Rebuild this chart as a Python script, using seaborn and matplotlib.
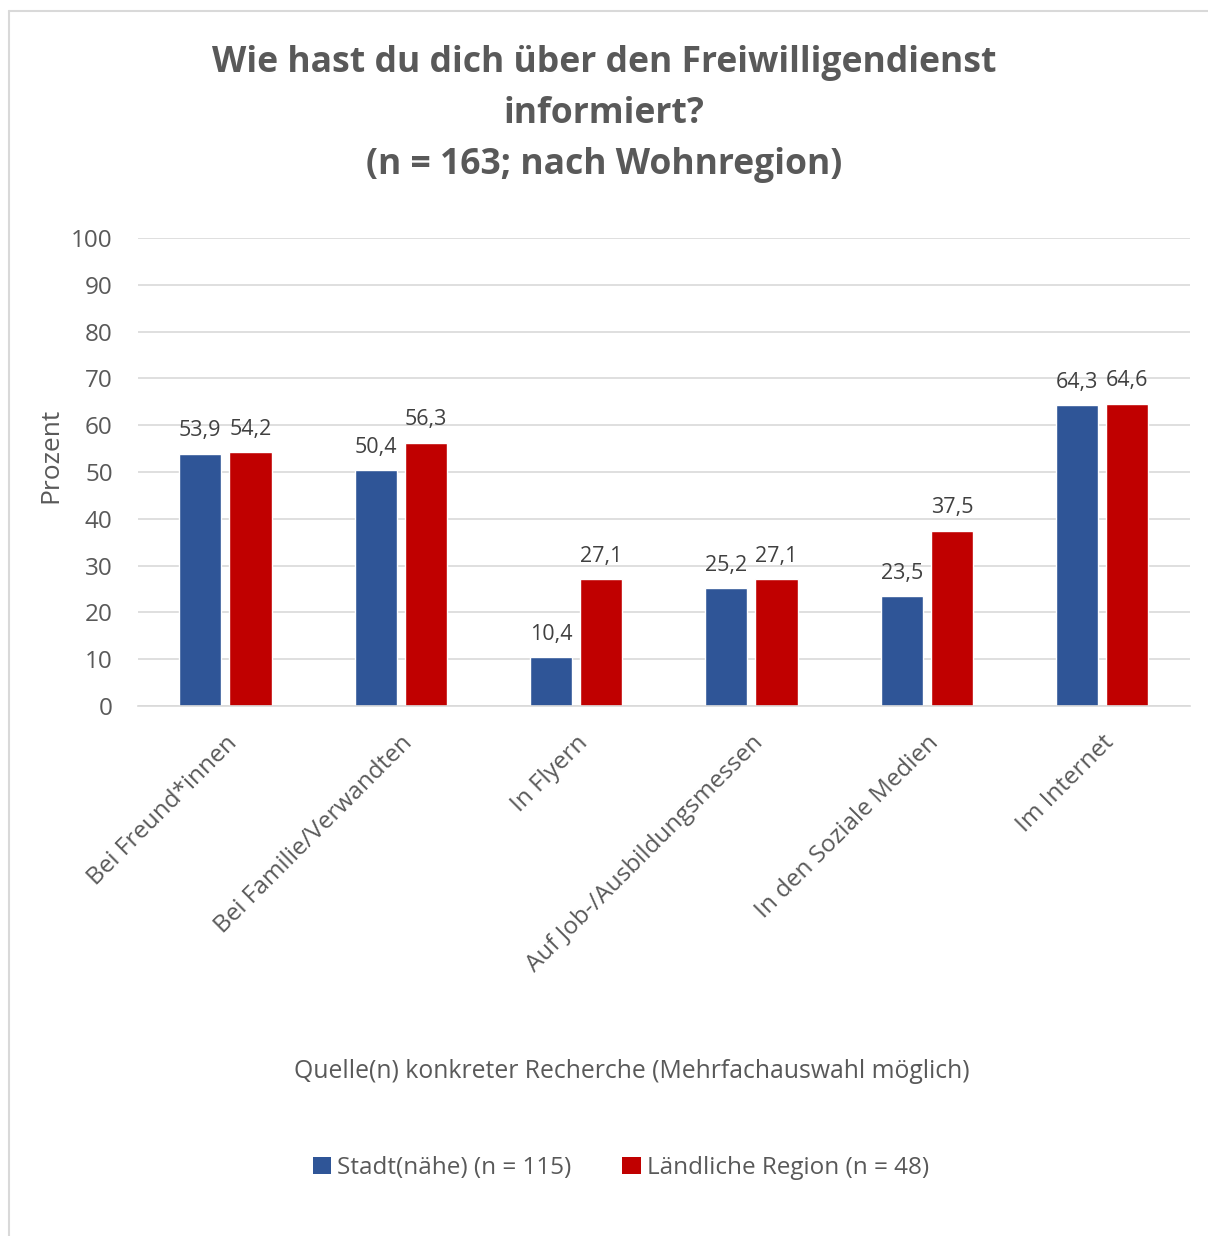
import matplotlib
matplotlib.use("Agg")
import matplotlib.pyplot as plt
import seaborn as sns
import pandas as pd
from matplotlib.lines import Line2D
from matplotlib.patches import Patch

# --- data ---
categories = [
    "Bei Freund*innen",
    "Bei Familie/Verwandten",
    "In Flyern",
    "Auf Job-/Ausbildungsmessen",
    "In den Soziale Medien",
    "Im Internet",
]
stadt = [53.9, 50.4, 10.4, 25.2, 23.5, 64.3]
land = [54.2, 56.3, 27.1, 27.1, 37.5, 64.6]
series_names = ["Stadt(nähe) (n = 115)", "Ländliche Region (n = 48)"]
colors = ["#2F5597", "#C00000"]

df = pd.DataFrame({
    "Kategorie": categories * 2,
    "Wert": stadt + land,
    "Region": [series_names[0]] * len(categories) + [series_names[1]] * len(categories),
})

sns.set_theme(style="white")
plt.rcParams["font.family"] = ["Open Sans", "DejaVu Sans"]
grey = "#595959"

fig = plt.figure(figsize=(12.08, 12.36), dpi=100)
ax = fig.add_axes([0.114, 0.4288, 0.871, 0.3786])

sns.barplot(data=df, x="Kategorie", y="Wert", hue="Region", order=categories,
            hue_order=series_names, palette=colors, width=0.572, gap=0.16,
            saturation=1, ax=ax, legend=False)

for cont in ax.containers:
    labels = [f"{b.get_height():.1f}".replace(".", ",") for b in cont]
    ax.bar_label(cont, labels=labels, padding=9, fontsize=15.5, color="#404040")

ax.set_xlim(-0.5, 5.5)
ax.set_ylim(0, 100)
ax.set_yticks(range(0, 101, 10))
ax.yaxis.grid(True, color="#D9D9D9", linewidth=1.2)
ax.set_axisbelow(True)
for s in ["top", "right", "left"]:
    ax.spines[s].set_visible(False)
ax.spines["bottom"].set_color("#D9D9D9")
ax.spines["bottom"].set_linewidth(1.2)
ax.tick_params(axis="y", length=0, pad=18, labelsize=17.5, labelcolor=grey)
ax.tick_params(axis="x", length=0, pad=18, labelsize=17.5, labelcolor=grey)
ax.set_xticks(range(len(categories)))
ax.set_xticklabels(categories, rotation=45, ha="right", rotation_mode="anchor")
ax.set_xlabel("")
ax.set_ylabel("Prozent", fontsize=19, color=grey, labelpad=4)
ax.yaxis.set_label_coords(-0.071, 0.536)

fig.text(0.5, 1 - 45 / 1236, "Wie hast du dich über den Freiwilligendienst\ninformiert?\n(n = 163; nach Wohnregion)",
         ha="center", va="top", fontsize=25.6, fontweight="bold", color=grey,
         linespacing=1.56)
fig.text(0.523, 1 - 1071 / 1236, "Quelle(n) konkreter Recherche (Mehrfachauswahl möglich)",
         ha="center", va="center", fontsize=17.8, color=grey)

handles = [Patch(facecolor=c, edgecolor="none") for c in colors]
fig.legend(handles, series_names, loc="center", bbox_to_anchor=(0.514, 1 - 1168 / 1236),
           ncol=2, frameon=False, fontsize=17.5, labelcolor=grey, handlelength=0.75,
           handleheight=0.75, handletextpad=0.25, columnspacing=2.1)

# chart border
fig.add_artist(Line2D([9 / 1208, 9 / 1208], [0, 1 - 11 / 1236], color="#D9D9D9", linewidth=1.5))
fig.add_artist(Line2D([9 / 1208, 1], [1 - 11 / 1236, 1 - 11 / 1236], color="#D9D9D9", linewidth=1.5))

fig.savefig("out.png", dpi=100, facecolor="white")
